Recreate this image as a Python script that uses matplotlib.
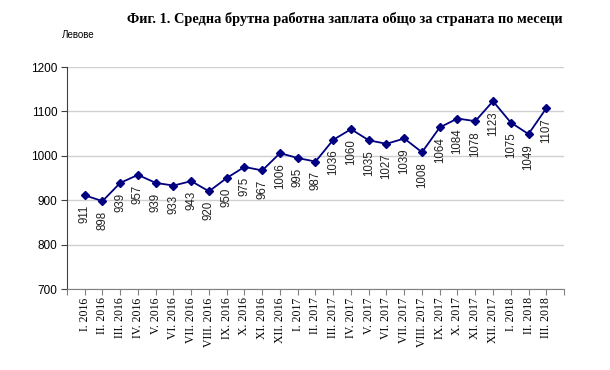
import numpy as np
import matplotlib
matplotlib.use('Agg')
import matplotlib.pyplot as plt

# Data
months = ['I', 'II', 'III', 'IV', 'V', 'VI', 'VII', 'VIII', 'IX', 'X', 'XI', 'XII']
labels = [m + '. 2016' for m in months] + [m + '. 2017' for m in months] + ['I. 2018', 'II. 2018', 'III. 2018']
wages = [911, 898, 939, 957, 939, 933, 943, 920, 950, 975, 967, 1006,
         995, 987, 1036, 1060, 1035, 1027, 1039, 1008, 1064, 1084, 1078, 1123,
         1075, 1049, 1107]
yticks = [700, 800, 900, 1000, 1100, 1200]

fig = plt.figure(figsize=(6.1, 3.7), dpi=100)
ax = fig.add_axes([0.1098, 0.2189, 0.8148, 0.6])

x = np.arange(len(wages))
ax.plot(x, wages, color='#000080', lw=1.3, marker='D', ms=4.5, zorder=3)

for xi, v in zip(x, wages):
    ax.annotate(str(v), (xi, v), xytext=(0, -7), textcoords='offset points',
                rotation=90, ha='center', va='top', fontsize=8.3,
                family='Liberation Sans', color='#222222')

ax.set_xlim(-1, len(wages))
ax.set_ylim(700, 1200)
ax.set_yticks(yticks)
ax.set_yticklabels([str(t) for t in yticks], family='Liberation Sans', fontsize=8.5)
ax.set_xticks(np.arange(-1, len(wages) + 1))
ax.set_xticklabels([''] + labels + [''], rotation=90, family='Liberation Serif', fontsize=8.5)
ax.tick_params(axis='x', length=4, color='#808080', pad=2)
ax.tick_params(axis='y', length=4, color='#404040', pad=3)
ax.grid(axis='y', color='#d0d0d0', lw=1)
ax.set_axisbelow(True)
for s in ['top', 'right']:
    ax.spines[s].set_visible(False)
ax.spines['left'].set_color('#404040')
ax.spines['bottom'].set_color('#808080')

fig.text(0.566, 0.95, 'Фиг. 1. Средна брутна работна заплата общо за страната по месеци',
         ha='center', va='center', fontsize=10.4, fontweight='bold', family='Liberation Serif')
fig.text(0.102, 0.905, 'Левове', ha='left', va='center', fontsize=7, family='Liberation Sans')

fig.savefig('out.png', dpi=100)
